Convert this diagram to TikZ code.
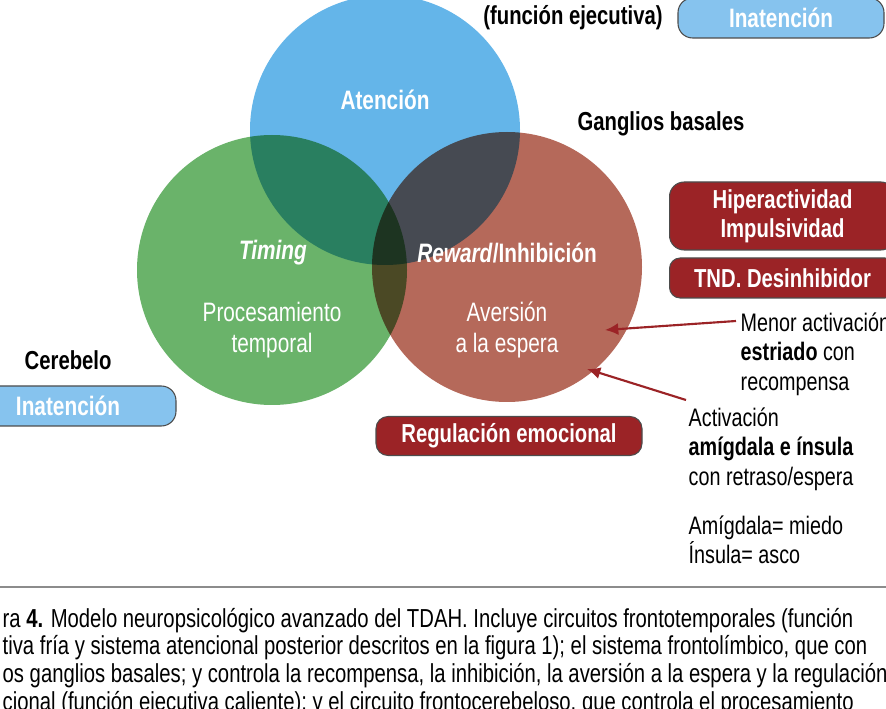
\documentclass[tikz,border=0pt]{standalone}
\usepackage{fontspec}
\setmainfont{Liberation Sans}[FakeStretch=0.78]
\usetikzlibrary{arrows.meta}
\definecolor{cblue}{RGB}{100,181,233}
\definecolor{cgreen}{RGB}{106,179,106}
\definecolor{cred}{RGB}{181,105,90}
\definecolor{dred}{RGB}{155,35,38}
\definecolor{lblue}{RGB}{134,195,238}
\begin{document}
\begin{tikzpicture}[x=0.75pt,y=-0.75pt,
  lab/.style={font=\fontsize{20}{23}\selectfont,text=white,align=center},
  blk/.style={font=\fontsize{19}{22}\selectfont,text=black,align=left},
  captxt/.style={font=\fontsize{19.5}{22}\selectfont,text=black,anchor=west},
  hd/.style={font=\fontsize{19.5}{22}\selectfont\bfseries,text=black},
  rbox/.style={draw=black!70,line width=0.8pt,fill=dred,rounded corners=11pt,text=white,font=\fontsize{19.5}{22}\selectfont\bfseries,align=center},
  bbox/.style={draw=black!70,line width=0.8pt,fill=lblue,rounded corners=11pt,text=white,font=\fontsize{20}{22}\selectfont\bfseries},
  arr/.style={draw=dred,line width=1.6pt,-{Latex[length=10pt,width=9pt]}}]
\useasboundingbox (0,0) rectangle (886,709);
\clip (0,0) rectangle (886,709);
\begin{scope}[blend group=multiply]
\fill[cblue] (385,130) circle (135);
\fill[cgreen] (272,270) circle (135);
\fill[cred] (507,267) circle (135);
\end{scope}
\node[lab,font=\fontsize{20}{23}\selectfont\bfseries] (at) at (385,100) {Atención};
\node[lab,font=\fontsize{20}{23}\selectfont\bfseries\itshape] (ti) at (273,253) {Timing};
\node[lab,font=\fontsize{20}{23}\selectfont\bfseries] (rw) at (507,253) {\textit{Reward}/Inhibición};
\node[lab] (pt) at (272,330) {Procesamiento\\temporal};
\node[lab] (ae) at (507,330) {Aversión\\a la espera};
\node[hd] (fe) at (573,18) {(función ejecutiva)};
\node[bbox,minimum width=206*0.75pt,minimum height=40*0.75pt] (ib1) at (781,18) {Inatención};
\node[hd,anchor=west] (ce) at (20,360) {Cerebelo};
\node[bbox,minimum width=216*0.75pt,minimum height=40*0.75pt] (ib2) at (68,406) {Inatención};
\node[rbox,minimum width=226*0.75pt,minimum height=68*0.75pt,anchor=west] (hi) at (669,216) {Hiperactividad\\Impulsividad};
\node[rbox,minimum width=226*0.75pt,minimum height=40*0.75pt,anchor=west,rounded corners=8pt] (tnd) at (669,278) {TND. Desinhibidor};
\node[hd] (gb) at (661,124) {Ganglios basales};
\node[rbox,minimum width=266*0.75pt,minimum height=39*0.75pt,rounded corners=9pt] (re) at (509,436) {Regulación emocional};
\node[blk,anchor=north west] (me) at (736,308) {Menor activación\\\textbf{estriado} con\\recompensa};
\node[blk,anchor=north west] (ac) at (684,403) {Activación\\\textbf{amígdala e ínsula}\\con retraso/espera};
\node[blk,anchor=north west] (am) at (684,511) {Amígdala= miedo\\Ínsula= asco};
\coordinate (t1) at (605,330);
\coordinate (t2) at (587,369);
\draw[arr] (736,321) -- (t1);
\draw[arr] (686,400) -- (t2);
\draw[black!45,line width=1.2pt] (0,587) -- (886,587);
\node[captxt] (c1) at (-2,621) {ra \textbf{4.} Modelo neuropsicológico avanzado del TDAH. Incluye circuitos frontotemporales (función};
\node[captxt] (c2) at (-2,648) {tiva fría y sistema atencional posterior descritos en la figura 1); el sistema frontolímbico, que con};
\node[captxt] (c3) at (-2,676) {os ganglios basales; y controla la recompensa, la inhibición, la aversión a la espera y la regulación};
\node[captxt] (c4) at (-2,704) {cional (función ejecutiva caliente); y el circuito frontocerebeloso, que controla el procesamiento};
\end{tikzpicture}
\end{document}
